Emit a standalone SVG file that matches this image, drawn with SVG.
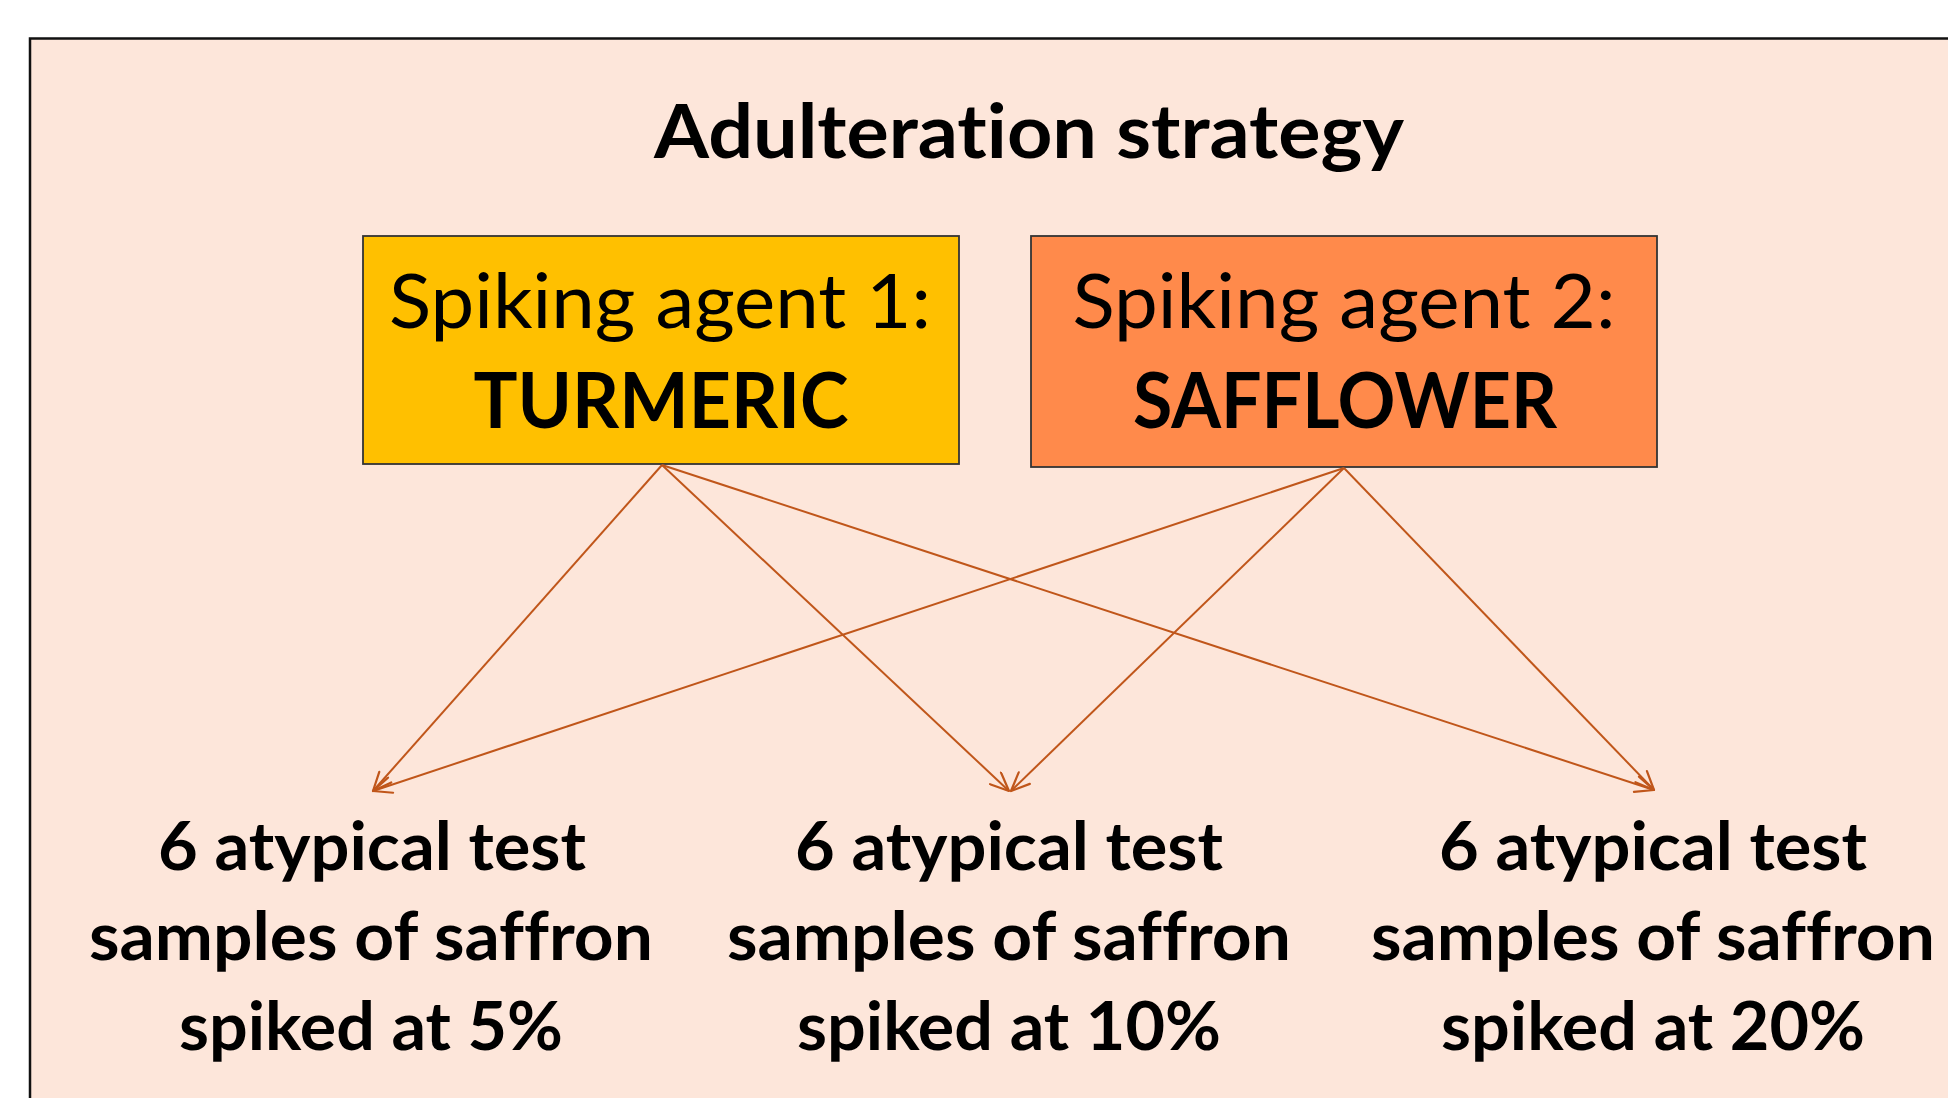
<svg xmlns="http://www.w3.org/2000/svg" width="1948" height="1098" viewBox="0 0 1948 1098">
<style>
.frame{fill:#FDE6DA;stroke:#111;stroke-width:2.5}
.box{stroke:#333;stroke-width:1.8}
.t{font-family:Lato,"Liberation Sans",sans-serif;fill:#000;text-anchor:middle;font-variant-ligatures:none;font-feature-settings:"liga" 0,"clig" 0,"dlig" 0}
.reg{font-size:76px;font-weight:400}
.bold{font-size:76px;font-weight:700}
.title{font-size:75px;font-weight:700}
.lbl{font-size:66px;font-weight:700}
.conn line{stroke:#C0561A;stroke-width:2;fill:none}
</style>
<defs>
<marker id="ah" viewBox="0 0 22 18" refX="20.5" refY="9" markerWidth="22" markerHeight="18" markerUnits="userSpaceOnUse" orient="auto">
<path d="M2,1 L20.5,9 L2,17" fill="none" stroke="#C0561A" stroke-width="2.2" stroke-linecap="round" stroke-linejoin="round"/>
</marker>
</defs>
<rect x="0" y="0" width="1948" height="1098" fill="#fff"/>
<g id="frame">
<rect class="frame" x="30" y="38.5" width="1940" height="1080"/>
<text class="t title" x="1029" y="158" textLength="750" lengthAdjust="spacingAndGlyphs">Adulteration strategy</text>
</g>
<g id="turmeric">
<rect class="box" x="363" y="236" width="596" height="228" fill="#FFC000"/>
<text class="t reg" x="660" y="328" textLength="542" lengthAdjust="spacingAndGlyphs">Spiking agent 1:</text>
<text class="t bold" x="661" y="428" textLength="375" lengthAdjust="spacingAndGlyphs">TURMERIC</text>
</g>
<g id="safflower">
<rect class="box" x="1031" y="236" width="626" height="231" fill="#FF8A4B"/>
<text class="t reg" x="1344" y="328" textLength="543" lengthAdjust="spacingAndGlyphs">Spiking agent 2:</text>
<text class="t bold" x="1345" y="428" textLength="424" lengthAdjust="spacingAndGlyphs">SAFFLOWER</text>
</g>
<g id="s5">
<text class="t lbl" x="372" y="870" textLength="428" lengthAdjust="spacingAndGlyphs">6 atypical test</text>
<text class="t lbl" x="371" y="960" textLength="564" lengthAdjust="spacingAndGlyphs">samples of saffron</text>
<text class="t lbl" x="371" y="1050" textLength="384" lengthAdjust="spacingAndGlyphs">spiked at 5%</text>
</g>
<g id="s10">
<text class="t lbl" x="1009" y="870" textLength="428" lengthAdjust="spacingAndGlyphs">6 atypical test</text>
<text class="t lbl" x="1009" y="960" textLength="564" lengthAdjust="spacingAndGlyphs">samples of saffron</text>
<text class="t lbl" x="1009" y="1050" textLength="424" lengthAdjust="spacingAndGlyphs">spiked at 10%</text>
</g>
<g id="s20">
<text class="t lbl" x="1653" y="870" textLength="428" lengthAdjust="spacingAndGlyphs">6 atypical test</text>
<text class="t lbl" x="1653" y="960" textLength="564" lengthAdjust="spacingAndGlyphs">samples of saffron</text>
<text class="t lbl" x="1653" y="1050" textLength="424" lengthAdjust="spacingAndGlyphs">spiked at 20%</text>
</g>
<g id="connectors" class="conn">
<line x1="662" y1="465" x2="373" y2="791" marker-end="url(#ah)"/>
<line x1="662" y1="465" x2="1009" y2="791" marker-end="url(#ah)"/>
<line x1="662" y1="465" x2="1654" y2="790" marker-end="url(#ah)"/>
<line x1="1344" y1="468" x2="373" y2="791" marker-end="url(#ah)"/>
<line x1="1344" y1="468" x2="1011" y2="791" marker-end="url(#ah)"/>
<line x1="1344" y1="468" x2="1654" y2="790" marker-end="url(#ah)"/>
</g>
</svg>
